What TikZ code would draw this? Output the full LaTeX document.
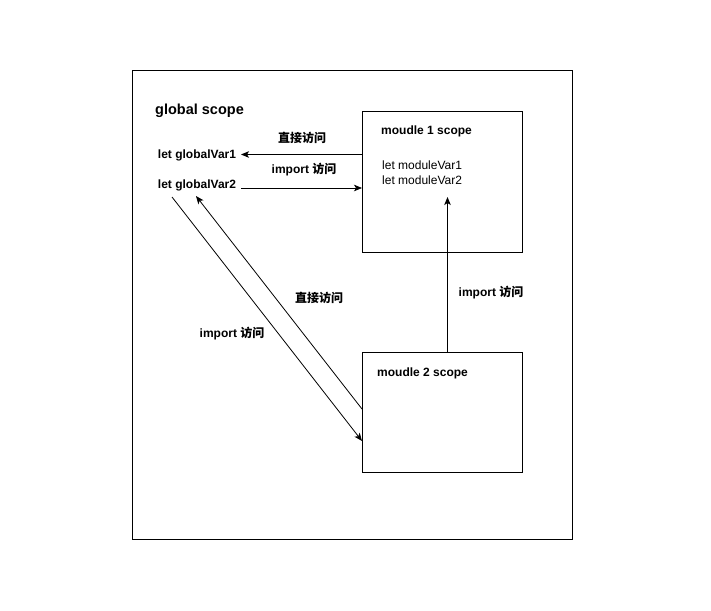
\documentclass[tikz,border=0pt]{standalone}
\usepackage{fontspec}
\setmainfont{Liberation Sans}
\newfontfamily\cjk{Noto Sans CJK SC}
\usetikzlibrary{arrows.meta}
\tikzset{
  box/.style={draw=black, line width=0.9pt, fill=white},
  lbl/.style={font=\fontsize{12}{14}\selectfont\bfseries, inner sep=1pt},
  txt/.style={font=\fontsize{12}{15}\selectfont, inner sep=0pt, anchor=west, align=left},
  conn/.style={draw=black, line width=0.8pt, -{Stealth[length=8pt,width=6.5pt,inset=2pt]}},
}
\begin{document}
\begin{tikzpicture}[x=1pt,y=-1pt]
\useasboundingbox (0,0) rectangle (711,610);
\node[box, minimum width=440pt, minimum height=469pt, anchor=north west, inner sep=0pt] (outer) at (132,70) {};
\node[box, minimum width=160pt, minimum height=141pt, anchor=north west, inner sep=0pt] (m1) at (362,111) {};
\node[box, minimum width=160pt, minimum height=120pt, anchor=north west, inner sep=0pt] (m2) at (362,352) {};
\node[font=\fontsize{14.5}{16}\selectfont\bfseries, inner sep=0pt] (gs) at (199.5,111) {global scope};
\node[lbl, inner sep=0pt] (gv1) at (197,155.5) {let globalVar1};
\node[lbl, inner sep=0pt] (gv2) at (197,185) {let globalVar2};
\node[lbl, anchor=west, inner sep=0pt] (m1t) at (381,131) {moudle 1 scope};
\node[txt] (mv) at (382,172.5) {let moduleVar1\\let moduleVar2};
\node[lbl, anchor=west, inner sep=0pt] (m2t) at (377,373) {moudle 2 scope};
% connector end points
\coordinate (a1s) at (362,154.5);
\coordinate (a1e) at (241,154.5);
\coordinate (a2s) at (241,188);
\coordinate (a2e) at (362,188);
\coordinate (a3s) at (447.5,352);
\coordinate (a3e) at (447.5,197);
\coordinate (a4s) at (172,197);
\coordinate (a4e) at (362,441);
\coordinate (a5s) at (362,409);
\coordinate (a5e) at (196,196);
\draw[conn] (a1s) -- (a1e);
\draw[conn] (a2s) -- (a2e);
\draw[conn] (a3s) -- (a3e);
\draw[conn] (a4s) -- (a4e);
\draw[conn] (a5s) -- (a5e);
% labels
\node[lbl] (l1) at (302,138) {\cjk 直接访问};
\node[lbl] (l2) at (304,170) {import {\cjk 访问}};
\node[lbl] (l3) at (491,293) {import {\cjk 访问}};
\node[lbl] (l4) at (319,298) {\cjk 直接访问};
\node[lbl] (l5) at (232,333.5) {import {\cjk 访问}};
\end{tikzpicture}
\end{document}
